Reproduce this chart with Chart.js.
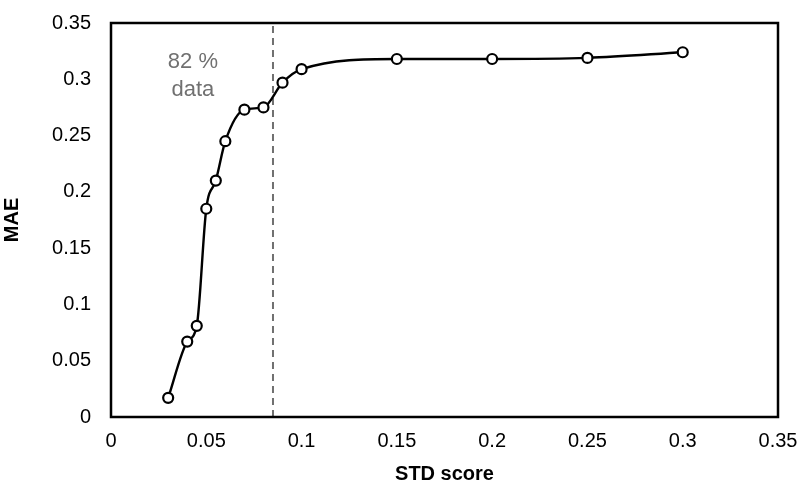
<!DOCTYPE html>
<html>
<head>
<meta charset="utf-8">
<script src="https://cdn.jsdelivr.net/npm/chart.js@4"></script>
<style>
  html, body { margin: 0; padding: 0; background: #fff; }
  #wrap { width: 801px; height: 486px; }
</style>
</head>
<body>
<div id="wrap"><canvas id="mae_chart" width="801" height="486"></canvas></div>
<script>
// STD score thresholds (x) and the MAE read at each one (y).
var std_scores = [0.03, 0.04, 0.045, 0.05, 0.055, 0.06, 0.07, 0.08, 0.09, 0.1, 0.15, 0.2, 0.25, 0.3];
var mae_values = [0.017, 0.067, 0.081, 0.185, 0.210, 0.245, 0.273, 0.275, 0.297, 0.309, 0.318, 0.318, 0.319, 0.324];

// Cut-off marker and its note.
var cutoff_x = [0.085, 0.085];
var cutoff_y = [0, 0.35];
var note_lines = ['82 %', 'data'];
var note_pos = [0.043, 0.315];

// Axis range and step.
var axis_max = 0.35;
var axis_step = 0.05;

var FONT = "'Liberation Sans', Arial, sans-serif";

// Draws the closed black box round the plot area and the note text.
const frameAndNote = {
    id: 'frameAndNote',
    afterDatasetsDraw(chart) {
        const {ctx, chartArea: {left, top, width, height}, scales: {x, y}} = chart;
        ctx.save();
        ctx.strokeStyle = '#000';
        ctx.lineWidth = 2.5;
        ctx.strokeRect(left, top, width, height);

        // Note next to the dashed line.
        ctx.fillStyle = '#707070';
        ctx.font = '22px ' + FONT;
        ctx.textAlign = 'center';
        ctx.textBaseline = 'middle';
        var cx = x.getPixelForValue(note_pos[0]);
        var cy = y.getPixelForValue(note_pos[1]);
        ctx.fillText(note_lines[0], cx, cy);
        ctx.fillText(note_lines[1], cx, cy + 28);
        ctx.restore();
    }
};

function fmt(v) {
    return String(Number(v.toFixed(2)));
}

// Drop the extra room Chart.js keeps for overhanging tick labels,
// so the layout padding alone places the plot box.
function noOverhang(scale) {
    scale.paddingTop = 0;
    scale.paddingBottom = 0;
    scale.paddingLeft = 0;
    scale.paddingRight = 0;
}

new Chart(document.getElementById('mae_chart'), {
    type: 'scatter',
    data: {
        datasets: [
            {
                label: 'MAE',
                data: std_scores.map((s, i) => ({x: s, y: mae_values[i]})),
                showLine: true,
                cubicInterpolationMode: 'monotone',
                borderColor: '#000',
                borderWidth: 2.4,
                pointBackgroundColor: '#fff',
                pointBorderColor: '#000',
                pointBorderWidth: 2.2,
                pointRadius: 5,
                order: 1
            },
            {
                label: 'cutoff',
                data: cutoff_x.map((s, i) => ({x: s, y: cutoff_y[i]})),
                showLine: true,
                borderColor: '#707070',
                borderWidth: 2,
                borderDash: [7, 5],
                pointRadius: 0,
                order: 2
            }
        ]
    },
    options: {
        responsive: false,
        animation: false,
        layout: {
            padding: {top: 23, right: 23, left: 0, bottom: 0}
        },
        plugins: {
            legend: {display: false},
            tooltip: {enabled: false}
        },
        scales: {
            x: {
                type: 'linear',
                min: 0,
                max: axis_max,
                grid: {display: false, drawTicks: false},
                border: {display: false},
                ticks: {
                    stepSize: axis_step,
                    color: '#000',
                    padding: 12,
                    font: {family: FONT, size: 20},
                    callback: (v) => fmt(v)
                },
                title: {
                    display: true,
                    text: 'STD score',
                    color: '#000',
                    padding: {top: 9, bottom: 0},
                    font: {family: FONT, size: 20, weight: 'bold'}
                },
                afterFit: (scale) => { scale.height = 69; noOverhang(scale); }
            },
            y: {
                type: 'linear',
                min: 0,
                max: axis_max,
                grid: {display: false, drawTicks: false},
                border: {display: false},
                ticks: {
                    stepSize: axis_step,
                    color: '#000',
                    padding: 20,
                    font: {family: FONT, size: 20},
                    callback: (v) => fmt(v)
                },
                title: {
                    display: true,
                    text: 'MAE',
                    color: '#000',
                    padding: {top: 0, bottom: 8},
                    font: {family: FONT, size: 20, weight: 'bold'}
                },
                afterFit: (scale) => { scale.width = 111; noOverhang(scale); }
            }
        }
    },
    plugins: [frameAndNote]
});
</script>
</body>
</html>
